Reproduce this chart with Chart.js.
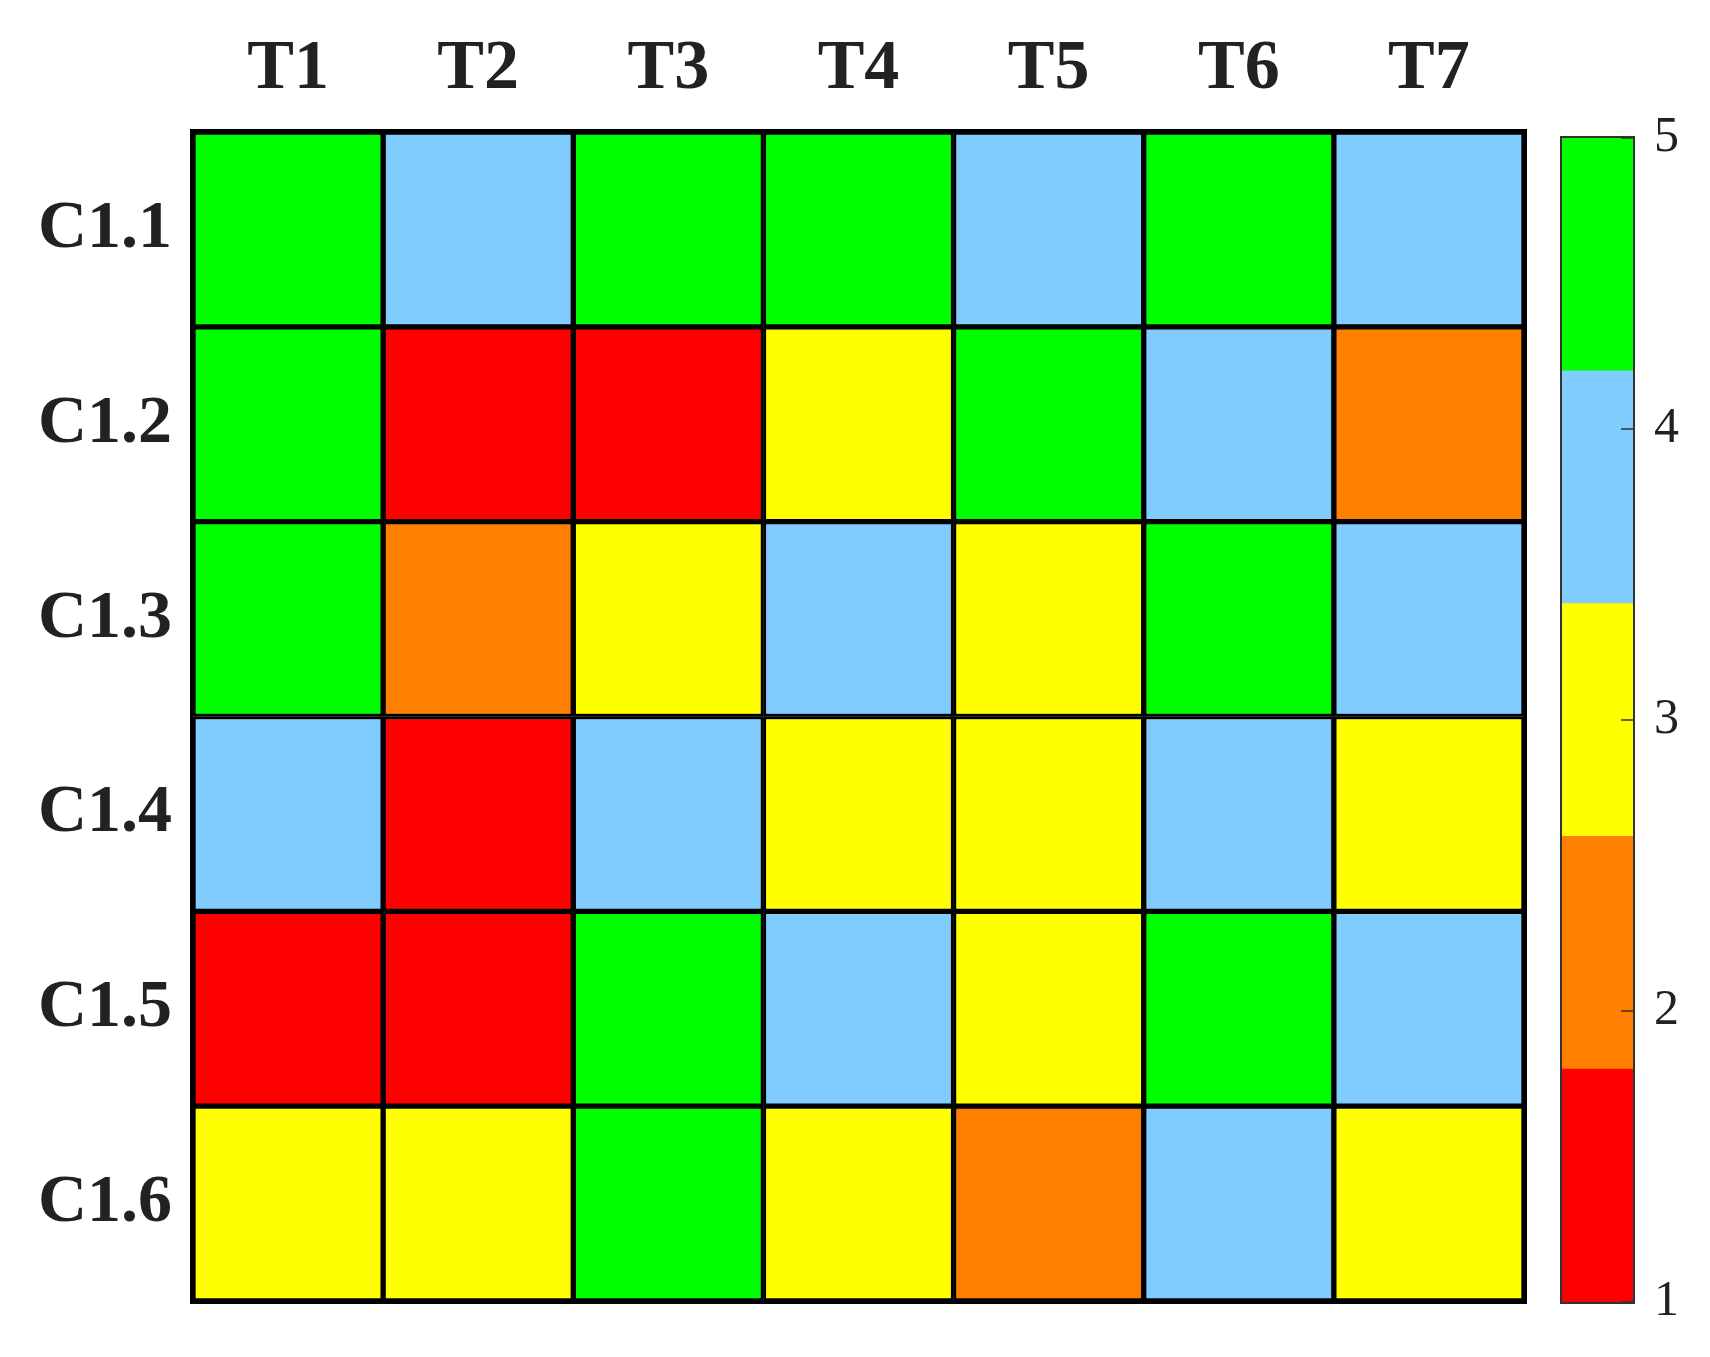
<!DOCTYPE html>
<html>
<head>
<meta charset="utf-8">
<script src="https://cdn.jsdelivr.net/npm/chart.js@4.4.1/dist/chart.umd.min.js"></script>
<style>
  body { margin: 0; background: #fff; }
  #wrap { position: relative; width: 1710px; height: 1357px; }
  #heatChart { position: absolute; left: 0; top: 0; }
  #barChart { position: absolute; left: 1540px; top: 0; }
</style>
</head>
<body>
<div id="wrap">
  <canvas id="heatChart" width="1540" height="1357"></canvas>
  <canvas id="barChart" width="170" height="1357"></canvas>
</div>
<script>
// Data
const columns = ['T1', 'T2', 'T3', 'T4', 'T5', 'T6', 'T7'];
const rows = ['C1.1', 'C1.2', 'C1.3', 'C1.4', 'C1.5', 'C1.6'];
const scoresC11 = [5, 4, 5, 5, 4, 5, 4];
const scoresC12 = [5, 1, 1, 3, 5, 4, 2];
const scoresC13 = [5, 2, 3, 4, 3, 5, 4];
const scoresC14 = [4, 1, 4, 3, 3, 4, 3];
const scoresC15 = [1, 1, 5, 4, 3, 5, 4];
const scoresC16 = [3, 3, 5, 3, 2, 4, 3];
const scores = [scoresC11, scoresC12, scoresC13, scoresC14, scoresC15, scoresC16];

// Colour scale: one colour per score level 1..5
const levelColors = ['#ff0000', '#ff8000', '#ffff00', '#80ccff', '#00ff00'];
const levelEdges = [1, 1.8, 2.6, 3.4, 4.2, 5];
const colorbarTicks = [1, 2, 3, 4, 5];

const textColor = '#222';
const serif = '"Liberation Serif", "DejaVu Serif", serif';

// Outline round the plot area
const framePlugin = {
    id: 'frame',
    afterDatasetsDraw(chart, args, opts) {
        const a = chart.chartArea;
        const ctx = chart.ctx;
        const w = opts.width;
        ctx.save();
        ctx.strokeStyle = opts.color;
        ctx.lineWidth = w;
        ctx.strokeRect(a.left - w / 2, a.top - w / 2, a.right - a.left + w, a.bottom - a.top + w);
        ctx.restore();
    }
};

// Short inward tick marks on the colorbar's right edge
const innerTicksPlugin = {
    id: 'innerTicks',
    afterDraw(chart) {
        const scale = chart.scales.y;
        const a = chart.chartArea;
        const ctx = chart.ctx;
        ctx.save();
        ctx.strokeStyle = '#333';
        ctx.lineWidth = 1.5;
        scale.ticks.forEach(function(t) {
            const y = scale.getPixelForValue(t.value);
            ctx.beginPath();
            ctx.moveTo(a.right - 12, y);
            ctx.lineTo(a.right, y);
            ctx.stroke();
        });
        ctx.restore();
    }
};

document.addEventListener('DOMContentLoaded', function() {
    initializeCharts();
});

function initializeCharts() {
    // Heatmap: one floating-bar dataset per row
    const heatCtx = document.getElementById('heatChart');
    new Chart(heatCtx, {
        type: 'bar',
        data: {
            labels: columns,
            datasets: rows.map(function(name, i) {
                return {
                    label: name,
                    data: scores[i].map(function() { return [i, i + 1]; }),
                    backgroundColor: scores[i].map(function(v) { return levelColors[v - 1]; }),
                    borderColor: '#000',
                    borderWidth: 3,
                    borderSkipped: false,
                    grouped: false,
                    barPercentage: 1,
                    categoryPercentage: 1
                };
            })
        },
        options: {
            responsive: false,
            animation: false,
            events: [],
            layout: { padding: { left: 0, top: 0, right: 16, bottom: 56 } },
            plugins: {
                legend: { display: false },
                tooltip: { enabled: false },
                frame: { width: 3, color: '#000' }
            },
            scales: {
                x: {
                    position: 'top',
                    grid: { display: false },
                    border: { display: false },
                    ticks: {
                        color: textColor,
                        padding: 12,
                        font: { family: serif, size: 70, weight: 'bold' }
                    },
                    afterFit: function(scale) { scale.height = 132; }
                },
                y: {
                    min: 0,
                    max: rows.length,
                    reverse: true,
                    grid: { display: false },
                    border: { display: false },
                    afterBuildTicks: function(scale) {
                        scale.ticks = rows.map(function(_, i) { return { value: i + 0.5 }; });
                    },
                    ticks: {
                        color: textColor,
                        padding: 13,
                        font: { family: serif, size: 68, weight: 'bold' },
                        callback: function(value) { return rows[Math.floor(value)]; }
                    },
                    afterFit: function(scale) { scale.width = 193; }
                }
            }
        },
        plugins: [framePlugin]
    });

    // Colorbar
    const barCtx = document.getElementById('barChart');
    new Chart(barCtx, {
        type: 'bar',
        data: {
            labels: [''],
            datasets: levelColors.map(function(c, k) {
                return {
                    data: [[levelEdges[k], levelEdges[k + 1]]],
                    backgroundColor: c,
                    borderWidth: 0,
                    grouped: false,
                    barPercentage: 1,
                    categoryPercentage: 1
                };
            })
        },
        options: {
            responsive: false,
            animation: false,
            events: [],
            layout: { padding: { left: 22, top: 138, right: 0, bottom: 55 } },
            plugins: {
                legend: { display: false },
                tooltip: { enabled: false },
                frame: { width: 2, color: '#333' }
            },
            scales: {
                x: { display: false },
                y: {
                    position: 'right',
                    min: colorbarTicks[0],
                    max: colorbarTicks[colorbarTicks.length - 1],
                    afterBuildTicks: function(scale) {
                        scale.ticks = colorbarTicks.map(function(v) { return { value: v }; });
                    },
                    grid: { display: false },
                    border: { display: false },
                    ticks: {
                        color: textColor,
                        padding: 13,
                        font: { family: serif, size: 50, weight: '500' }
                    },
                    afterFit: function(scale) { scale.width = 77; }
                }
            }
        },
        plugins: [framePlugin, innerTicksPlugin]
    });
}
</script>
</body>
</html>
